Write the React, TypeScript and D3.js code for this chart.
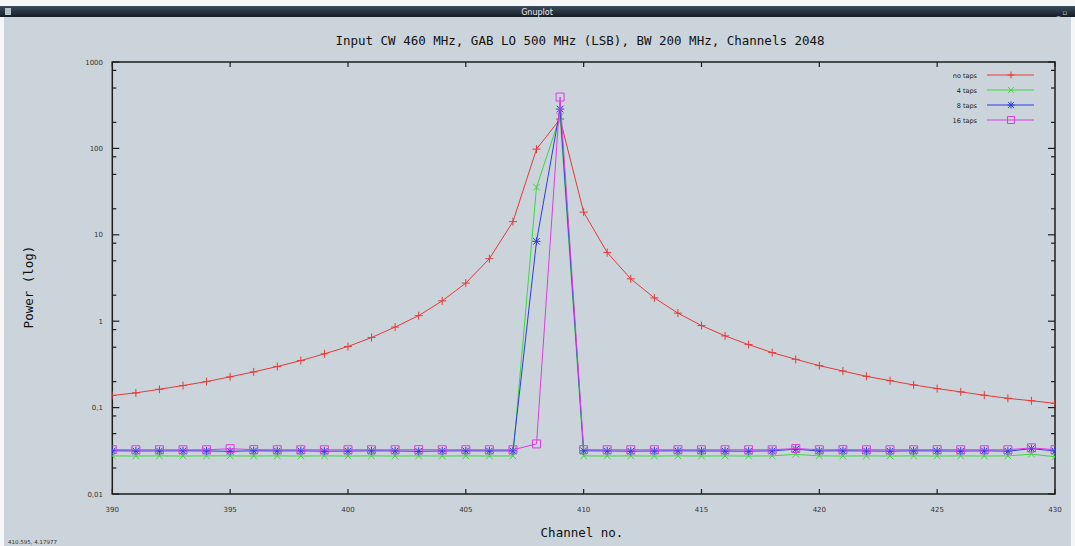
import { useEffect, useRef } from 'react';
import * as d3 from 'd3';

const channels = [
  390, 391, 392, 393, 394, 395, 396, 397, 398, 399, 400, 401, 402, 403, 404, 405, 406, 407, 408, 409,
  410, 411, 412, 413, 414, 415, 416, 417, 418, 419, 420, 421, 422, 423, 424, 425, 426, 427, 428, 429, 430,
];

const noTaps = [
  0.138, 0.148, 0.163, 0.18, 0.2, 0.227, 0.259, 0.299, 0.35, 0.419, 0.509, 0.647, 0.855, 1.16, 1.72, 2.76, 5.29,
  14.2, 98, 219, 18.3, 6.23, 3.09, 1.86, 1.24, 0.89, 0.676, 0.536, 0.433, 0.362, 0.306, 0.265, 0.23, 0.205,
  0.183, 0.166, 0.152, 0.139, 0.128, 0.12, 0.112,
];

const taps4 = [
  0.0276, 0.0275, 0.0276, 0.0275, 0.0276, 0.0276, 0.0275, 0.0276, 0.0275, 0.0276, 0.0275, 0.0276, 0.0275,
  0.0276, 0.0275, 0.0276, 0.0275, 0.0276, 35.6, 235, 0.0276, 0.0275, 0.0276, 0.0275, 0.0276, 0.0275, 0.0276,
  0.0275, 0.0276, 0.0288, 0.0276, 0.0275, 0.0276, 0.0275, 0.0276, 0.0275, 0.0276, 0.0275, 0.0276, 0.0289, 0.027,
];

const taps8 = [
  0.0316, 0.0315, 0.0315, 0.0316, 0.0315, 0.0312, 0.0316, 0.0315, 0.0316, 0.0313, 0.0314, 0.0316, 0.0315,
  0.0312, 0.0315, 0.0316, 0.0315, 0.0316, 8.4, 285, 0.0316, 0.0315, 0.0313, 0.0315, 0.0316, 0.0315, 0.0314,
  0.0313, 0.0316, 0.033, 0.0315, 0.0316, 0.0315, 0.0313, 0.0316, 0.0315, 0.0314, 0.0316, 0.0313, 0.0335, 0.0315,
];

const taps16 = [
  0.0326, 0.0325, 0.0325, 0.0325, 0.0325, 0.0334, 0.0326, 0.0325, 0.0325, 0.0325, 0.0325, 0.0325, 0.0325,
  0.0326, 0.0325, 0.0325, 0.0325, 0.0325, 0.038, 393, 0.0326, 0.0325, 0.0325, 0.0325, 0.0325, 0.0325, 0.0325,
  0.0325, 0.0325, 0.0336, 0.0325, 0.0326, 0.0325, 0.0325, 0.0325, 0.0326, 0.0325, 0.0325, 0.0325, 0.0342, 0.0326,
];

const seriesNames = ['no taps', '4 taps', '8 taps', '16 taps'];
const seriesColors = ['#e63a3a', '#3cd83c', '#2b3de6', '#e03ce0'];
const seriesMarkers = ['plus', 'cross', 'star', 'square'];

const xTicks = [390, 395, 400, 405, 410, 415, 420, 425, 430];
const yTicks = [0.01, 0.1, 1, 10, 100, 1000];
const yTickLabels = ['0,01', '0,1', '1', '10', '100', '1000'];

function markerPath(kind: string, x: number, y: number, s = 4) {
  const c = s * 0.82;
  const plus = `M${x - s},${y}h${2 * s}M${x},${y - s}v${2 * s}`;
  const cross = `M${x - c},${y - c}l${2 * c},${2 * c}M${x - c},${y + c}l${2 * c},${-2 * c}`;
  if (kind === 'plus') return plus;
  if (kind === 'cross') return cross;
  if (kind === 'star') return plus + cross;
  return `M${x - s},${y - s}h${2 * s}v${2 * s}h${-2 * s}z`;
}

export default function App() {
  const svgRef = useRef<SVGSVGElement>(null);

  useEffect(() => {
    if (!svgRef.current) return;
    const svg = d3.select(svgRef.current);
    svg.selectAll('*').remove();

    const W = 1075;
    const H = 546;
    const left = 112.3;
    const right = 1055;
    const top = 62;
    const bottom = 494;

    // window frame
    svg.append('rect').attr('width', W).attr('height', H).attr('fill', '#f4f6f7');
    svg.append('rect').attr('x', 4).attr('y', 16).attr('width', W - 8).attr('height', H - 16).attr('fill', '#cbd4da');

    const grad = svg.append('defs').append('linearGradient').attr('id', 'bar').attr('x1', 0).attr('x2', 0).attr('y1', 0).attr('y2', 1);
    grad.append('stop').attr('offset', '0%').attr('stop-color', '#3b4b5c');
    grad.append('stop').attr('offset', '100%').attr('stop-color', '#141d27');
    svg.append('rect').attr('x', 0).attr('y', 6).attr('width', W).attr('height', 11).attr('fill', 'url(#bar)');
    svg.append('rect').attr('x', 5).attr('y', 8).attr('width', 6).attr('height', 7).attr('fill', '#b8c0c8');
    svg.append('text').attr('x', 537).attr('y', 14.5).attr('text-anchor', 'middle')
      .style('font-family', 'DejaVu Sans, sans-serif').style('font-size', '8px').style('fill', '#e8eef4').text('Gnuplot');
    svg.append('text').attr('x', 1062).attr('y', 14.5).attr('text-anchor', 'middle')
      .style('font-family', 'DejaVu Sans, sans-serif').style('font-size', '7px').style('fill', '#d0d8e0').text('_ ▫');

    const x = d3.scaleLinear().domain([390, 430]).range([left, right]);
    const y = d3.scaleLog().domain([0.01, 1000]).range([bottom, top]);

    // title and axis labels
    svg.append('text').attr('x', 580).attr('y', 45).attr('text-anchor', 'middle')
      .style('font-family', 'DejaVu Sans Mono, monospace').style('font-size', '12.5px').style('fill', '#111')
      .text('Input CW 460 MHz, GAB LO 500 MHz (LSB), BW 200 MHz, Channels 2048');
    svg.append('text').attr('x', 582).attr('y', 537).attr('text-anchor', 'middle')
      .style('font-family', 'DejaVu Sans Mono, monospace').style('font-size', '12.5px').style('fill', '#111')
      .text('Channel no.');
    svg.append('text').attr('transform', 'translate(33,287) rotate(-90)').attr('text-anchor', 'middle')
      .style('font-family', 'DejaVu Sans Mono, monospace').style('font-size', '12.5px').style('fill', '#111')
      .text('Power (log)');

    // ticks
    const tickG = svg.append('g').attr('stroke', '#1e1e1e').attr('stroke-width', 1.2);
    yTicks.forEach((t, i) => {
      const yy = y(t);
      tickG.append('line').attr('x1', left).attr('x2', left + 7).attr('y1', yy).attr('y2', yy);
      tickG.append('line').attr('x1', right).attr('x2', right - 7).attr('y1', yy).attr('y2', yy);
      svg.append('text').attr('x', 103).attr('y', yy + 2.5).attr('text-anchor', 'end')
        .style('font-family', 'DejaVu Sans, sans-serif').style('font-size', '7px').style('fill', '#333')
        .text(yTickLabels[i]);
      if (i < yTicks.length - 1) {
        [2, 5, 8].forEach((m) => {
          const ym = y(t * m);
          tickG.append('line').attr('x1', left).attr('x2', left + 4).attr('y1', ym).attr('y2', ym);
          tickG.append('line').attr('x1', right).attr('x2', right - 4).attr('y1', ym).attr('y2', ym);
        });
      }
    });
    xTicks.forEach((t) => {
      const xx = x(t);
      tickG.append('line').attr('x1', xx).attr('x2', xx).attr('y1', bottom).attr('y2', bottom - 5);
      tickG.append('line').attr('x1', xx).attr('x2', xx).attr('y1', top).attr('y2', top + 5);
      svg.append('text').attr('x', xx).attr('y', 512).attr('text-anchor', 'middle')
        .style('font-family', 'DejaVu Sans, sans-serif').style('font-size', '7px').style('fill', '#333')
        .text(String(t));
    });

    // border
    svg.append('rect').attr('x', left).attr('y', top).attr('width', right - left).attr('height', bottom - top)
      .attr('fill', 'none').attr('stroke', '#1e1e1e').attr('stroke-width', 1.5);

    // series
    svg.append('clipPath').attr('id', 'plotclip').append('rect')
      .attr('x', left).attr('y', top).attr('width', right - left).attr('height', bottom - top);
    const plot = svg.append('g').attr('clip-path', 'url(#plotclip)');
    const allSeries = [noTaps, taps4, taps8, taps16];
    const line = d3.line<number>().x((_, i) => x(channels[i])).y((d) => y(d));

    allSeries.forEach((vals, si) => {
      const color = seriesColors[si];
      plot.append('path').attr('d', line(vals) ?? '').attr('fill', 'none').attr('stroke', color).attr('stroke-width', 1);
      plot.append('path')
        .attr('d', vals.map((v, i) => markerPath(seriesMarkers[si], x(channels[i]), y(v))).join(''))
        .attr('fill', 'none').attr('stroke', color).attr('stroke-width', 1);

      // legend
      const ly = 75 + si * 15;
      svg.append('text').attr('x', 977).attr('y', ly + 2.5).attr('text-anchor', 'end')
        .style('font-family', 'DejaVu Sans, sans-serif').style('font-size', '6.5px').style('fill', '#222')
        .text(seriesNames[si]);
      svg.append('line').attr('x1', 987).attr('x2', 1034).attr('y1', ly).attr('y2', ly).attr('stroke', color).attr('stroke-width', 1);
      svg.append('path').attr('d', markerPath(seriesMarkers[si], 1011, ly, 3.5)).attr('fill', 'none').attr('stroke', color).attr('stroke-width', 1);
    });

    // mouse coordinate readout at the bottom edge
    svg.append('text').attr('x', 8).attr('y', 544)
      .style('font-family', 'DejaVu Sans, sans-serif').style('font-size', '5.5px').style('fill', '#333')
      .text('410.595, 4.17977');
  }, []);

  return (
    <svg
      ref={svgRef}
      width={1075}
      height={546}
      style={{ position: 'fixed', left: 0, top: 0, display: 'block' }}
    />
  );
}
